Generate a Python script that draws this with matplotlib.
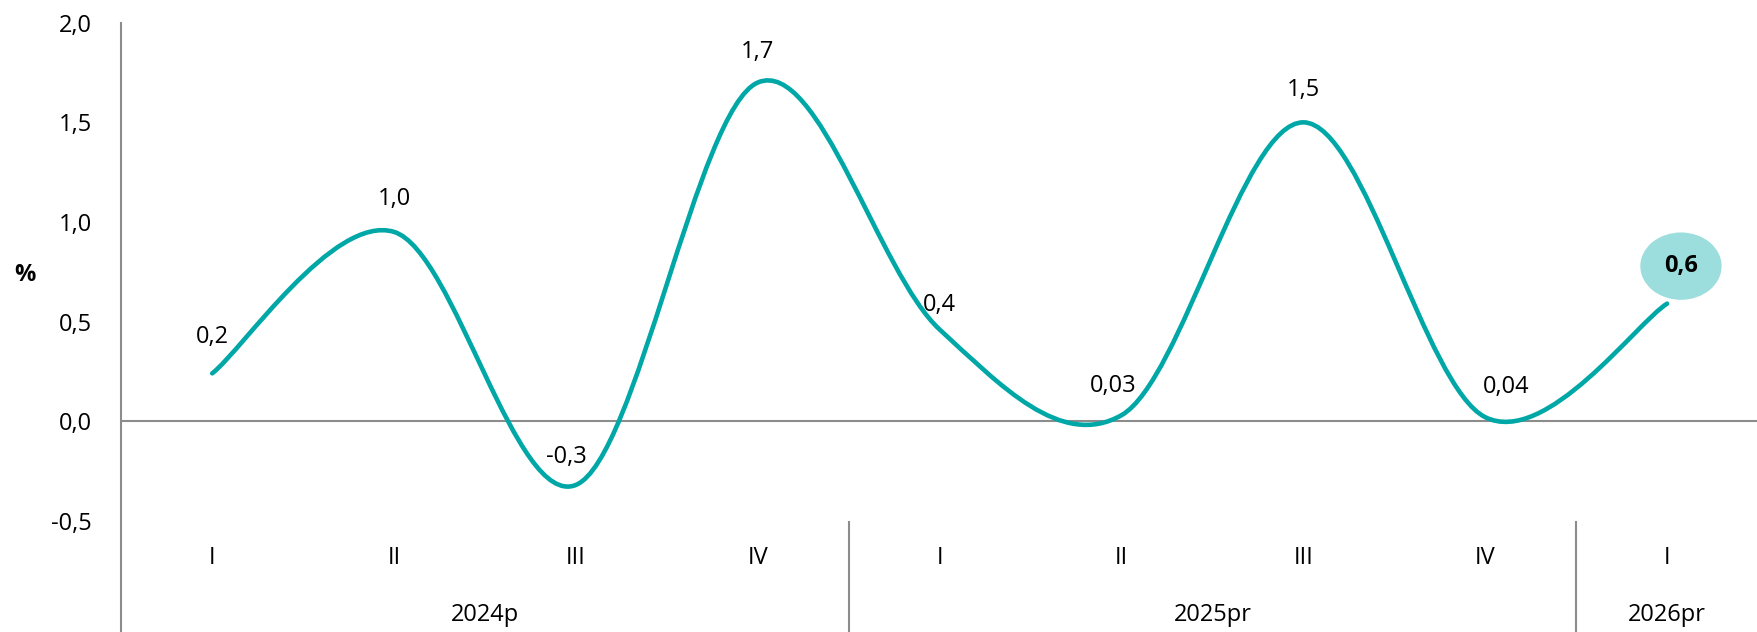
import matplotlib
matplotlib.use("Agg")
import matplotlib.pyplot as plt
from matplotlib.path import Path
from matplotlib.patches import PathPatch
from matplotlib.transforms import blended_transform_factory

# quarterly growth, %
quarters = ["I", "II", "III", "IV", "I", "II", "III", "IV", "I"]
values = [0.24, 0.95, -0.32, 1.70, 0.46, 0.03, 1.50, 0.02, 0.59]
value_labels = ["0,2", "1,0", "-0,3", "1,7", "0,4", "0,03", "1,5", "0,04", "0,6"]
years = ["2024p", "2025pr", "2026pr"]
year_spans = [(0, 3), (4, 7), (8, 8)]
y_ticks = [-0.5, 0.0, 0.5, 1.0, 1.5, 2.0]

# label offsets in points (dx, dy)
label_offsets = [(0, 26), (0, 24), (-7, 20), (0, 22), (0, 18), (-6, 21), (0, 23), (15, 22), (10, 27)]

TEAL = "#00a7a7"
GRAY = "#8c8c8c"

plt.rcParams["font.family"] = ["Open Sans", "DejaVu Sans"]
plt.rcParams["font.size"] = 17

fig = plt.figure(figsize=(17.58, 6.32), dpi=100)
ax = fig.add_axes([0.069, 0.176, 0.931, 0.788])

x = list(range(len(values)))

# smoothed line (catmull-rom style bezier, like excel smoothing)
verts = [(x[0], values[0])]
codes = [Path.MOVETO]
n = len(values)
for i in range(n - 1):
    p0 = (x[max(i - 1, 0)], values[max(i - 1, 0)])
    p1 = (x[i], values[i])
    p2 = (x[i + 1], values[i + 1])
    p3 = (x[min(i + 2, n - 1)], values[min(i + 2, n - 1)])
    c1 = (p1[0] + (p2[0] - p0[0]) / 6, p1[1] + (p2[1] - p0[1]) / 6)
    c2 = (p2[0] - (p3[0] - p1[0]) / 6, p2[1] - (p3[1] - p1[1]) / 6)
    verts += [c1, c2, p2]
    codes += [Path.CURVE4] * 3
ax.add_patch(PathPatch(Path(verts, codes), facecolor="none", edgecolor=TEAL,
                       lw=3.3, capstyle="round", joinstyle="round", zorder=3))

ax.set_xlim(-0.5, len(values) - 0.5)
ax.set_ylim(-0.5, 2.0)

# data labels
for i, (v, lab) in enumerate(zip(values, value_labels)):
    dx, dy = label_offsets[i]
    if i == n - 1:
        ax.annotate(lab, (i, v), xytext=(dx, dy), textcoords="offset points",
                    ha="center", va="center", fontweight="bold", fontsize=17,
                    bbox=dict(boxstyle="ellipse,pad=0.5", fc="#9cdddd", ec="none"),
                    zorder=4)
    else:
        ax.annotate(lab, (i, v), xytext=(dx, dy), textcoords="offset points",
                    ha="center", va="center", zorder=4)

# axes styling
for s in ["top", "right", "bottom", "left"]:
    ax.spines[s].set_visible(False)
ax.axhline(0, color=GRAY, lw=1.5, zorder=2)
ax.set_xticks([])
ax.set_yticks(y_ticks)
ax.set_yticklabels([f"{t:.1f}".replace(".", ",") for t in y_ticks])
ax.tick_params(axis="y", length=0, pad=21)

# left axis line running down to the bottom
fig.add_artist(plt.Line2D([0.069, 0.069], [0.0, 0.964], transform=fig.transFigure,
                          color=GRAY, lw=1.5))

trans = blended_transform_factory(ax.transData, fig.transFigure)
for i, q in enumerate(quarters):
    ax.text(i, 0.117, q, transform=trans, ha="center", va="center")
for name, (a, b) in zip(years, year_spans):
    ax.text((a + b) / 2, 0.027, name, transform=trans, ha="center", va="center")
for a, b in year_spans[1:]:
    ax.plot([a - 0.5, a - 0.5], [0.0, 0.174], transform=trans, color=GRAY,
            lw=1.5, clip_on=False)

fig.text(0.014, 0.565, "%", fontweight="bold", ha="center", va="center")

fig.savefig("out.png", dpi=100)
